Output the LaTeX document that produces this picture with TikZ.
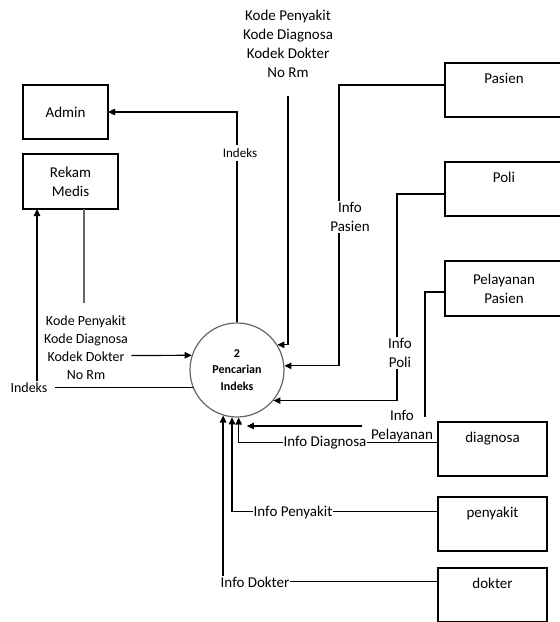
\documentclass[tikz,border=0pt]{standalone}
\usepackage{fontspec}
\setmainfont{Carlito}
\usepackage{tikz}
\usetikzlibrary{arrows.meta}
\tikzset{
  store/.style={draw, line width=1.3pt, outer sep=0pt, inner sep=3pt, anchor=north west, align=center},
  toptext/.style={text height=17pt, text depth=31pt},
  flow/.style={line width=1.2pt, -{Triangle[length=7pt,width=6.5pt]}},
  txt/.style={font=\fontsize{15}{19}\selectfont, align=center},
  lbl/.style={txt, fill=white, inner sep=1pt}
}
\begin{document}
\begin{tikzpicture}[x=1pt, y=-1pt, font=\fontsize{15}{19}\selectfont]
\useasboundingbox (0,0) rectangle (560,622);
\clip (0,0) rectangle (560,622);
\node (admin) [store, minimum width=85pt, minimum height=54pt] at (23,85) {Admin};
\node (rekam) [store, minimum width=95pt, minimum height=55pt] at (23,154) {Rekam\\Medis};
\node (pasien) [store, toptext, minimum width=118pt] at (445,63) {Pasien};
\node (poli) [store, toptext, minimum width=118pt] at (445,162) {Poli};
\node (pelay) [store, minimum width=118pt, minimum height=55pt] at (445,261) {Pelayanan\\Pasien};
\node (diag) [store, toptext, minimum width=109pt] at (438,422) {diagnosa};
\node (peny) [store, toptext, minimum width=109pt] at (438,497) {penyakit};
\node (dok) [store, toptext, minimum width=109pt] at (438,568) {dokter};
\node (proc) [circle, draw=black!60, line width=1.2pt, minimum size=94pt, align=center,
  font=\fontsize{12}{16.5}\selectfont\bfseries] at (237,370) {2\\Pencarian\\Indeks};
\node (topdata) [txt] at (288,43.5) {Kode Penyakit\\Kode Diagnosa\\Kodek Dokter\\No Rm};
\node (leftdata) [txt, font=\fontsize{14}{18}\selectfont] at (86,347.5) {Kode Penyakit\\Kode Diagnosa\\Kodek Dokter\\No Rm};
\node (lblPelay) [txt] at (402,426) {Info\\Pelayanan};
\coordinate (pelayEnd) at (425,417);
\draw[flow] (proc.north) |- (admin.east);
\draw[flow] ([yshift=-15pt]topdata.south) |- (proc.32);
\draw[flow] ([yshift=5pt]pasien.west) -| (339,300) |- (proc.5);
\draw[flow] ([yshift=-5pt]poli.west) -| (397,300) |- (proc.-40);
\draw[line width=1.2pt] ([yshift=-3.5pt]pelay.west) -| (pelayEnd);
\draw[flow] ([xshift=-5pt]lblPelay.west) -- (lblPelay.west -| proc.-78);
\draw[flow] ([yshift=6.5pt]diag.west) -| (proc.-88);
\draw[flow] ([yshift=12.5pt]peny.west) -| (proc.-96);
\draw[flow] ([yshift=13.5pt]dok.west) -| (proc.-107);
\draw[line width=1.2pt, black!60] ([xshift=13.5pt]rekam.south) -- ++(0,94);
\draw[flow] ([yshift=-8pt]leftdata.east) -- (proc.162);
\draw[flow] (proc.202) -| ([xshift=14pt]rekam.south west);
\node (lblIdxTop) [lbl, font=\fontsize{13}{16}\selectfont, inner sep=3pt] at (240,153) {Indeks};
\node (lblIdxLeft) [lbl, font=\fontsize{14}{18}\selectfont, inner xsep=8pt, inner ysep=2pt] at (29,388) {Indeks};
\node (lblPasien) [lbl] at (350,217) {Info\\Pasien};
\node (lblPoli) [lbl] at (400,353) {Info\\Poli};
\node (lblDiag) [lbl] at (325,443) {Info Diagnosa};
\node (lblPeny) [lbl] at (293,512) {Info Penyakit};
\node (lblDok) [lbl] at (255,582) {Info Dokter};
\end{tikzpicture}
\end{document}
